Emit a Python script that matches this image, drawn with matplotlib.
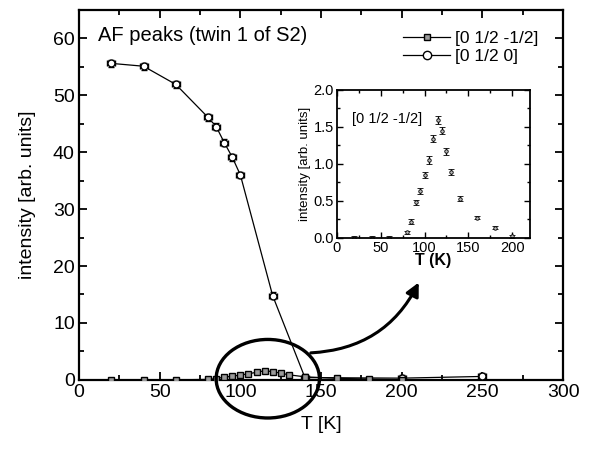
import matplotlib
matplotlib.use("Agg")
import matplotlib.pyplot as plt
from matplotlib.lines import Line2D
from matplotlib.patches import Ellipse, FancyArrowPatch
from matplotlib.ticker import MultipleLocator

plt.rcParams["font.family"] = ["Liberation Sans", "DejaVu Sans"]

# [0 1/2 0] reflection (open circles)
t_circ = [20, 40, 60, 80, 85, 90, 95, 100, 120, 140, 200, 250]
i_circ = [55.6, 55.1, 51.9, 46.1, 44.5, 41.7, 39.1, 36.0, 14.8, 0.4, 0.3, 0.6]

# [0 1/2 -1/2] reflection (grey squares, also shown in the inset)
t_sq = [20, 40, 60, 80, 85, 90, 95, 100, 105, 110, 115, 120, 125, 130, 140, 160, 180, 200]
i_sq = [0.0, 0.0, 0.0, 0.08, 0.22, 0.48, 0.63, 0.85, 1.05, 1.34, 1.59, 1.45,
        1.17, 0.89, 0.53, 0.27, 0.14, 0.02]
err_sq = [0.02, 0.02, 0.02, 0.02, 0.03, 0.03, 0.04, 0.04, 0.05, 0.05, 0.05, 0.05,
          0.05, 0.04, 0.03, 0.02, 0.02, 0.02]

fig = plt.figure(figsize=(5.94, 4.49), dpi=100)
ax = fig.add_axes([0.133, 0.154, 0.815, 0.824])

ax.errorbar(t_circ, i_circ, xerr=2.5, yerr=0.6, fmt="-o", color="black",
            mfc="white", mec="black", ms=5, lw=0.9, elinewidth=0.9, capsize=2,
            zorder=3)
ax.errorbar(t_sq, i_sq, yerr=err_sq, fmt="-s", color="black",
            mfc="#9a9a9a", mec="black", ms=4.5, lw=0.9, elinewidth=0.9, capsize=2,
            zorder=4)

ax.set_xlim(0, 300)
ax.set_ylim(0, 65)
ax.xaxis.set_major_locator(MultipleLocator(50))
ax.xaxis.set_minor_locator(MultipleLocator(25))
ax.yaxis.set_major_locator(MultipleLocator(10))
ax.yaxis.set_minor_locator(MultipleLocator(5))
ax.tick_params(which="both", direction="in", top=True, right=True, width=1.3)
ax.tick_params(which="major", length=6, labelsize=14, pad=3)
ax.tick_params(which="minor", length=3.5)
for s in ax.spines.values():
    s.set_linewidth(1.6)

ax.set_xlabel("T [K]", fontsize=14, labelpad=11)
ax.set_ylabel("intensity [arb. units]", fontsize=14, labelpad=12)
ax.text(0.04, 0.93, "AF peaks (twin 1 of S2)", transform=ax.transAxes,
        fontsize=14.5, va="center", ha="left")

legend_lines = [
    Line2D([], [], color="black", lw=0.9, marker="s", ms=5, mfc="#9a9a9a", mec="black"),
    Line2D([], [], color="black", lw=0.9, marker="o", ms=6, mfc="white", mec="black"),
]
ax.legend(legend_lines, ["[0 1/2 -1/2]", "[0 1/2 0]"], loc="upper left",
          bbox_to_anchor=(0.645, 0.975), frameon=False, fontsize=12.5,
          handlelength=2.7, handletextpad=0.25, labelspacing=0.15, borderpad=0.2)

# highlight the weak peak and point to the inset
ell = Ellipse((117, 0.2), 64, 13.8, fill=False, lw=2.4, ec="black",
              clip_on=False, zorder=5)
ax.add_patch(ell)
arrow = FancyArrowPatch((308 / 594, 1 - 353 / 449), (420 / 594, 1 - 280 / 449),
                        transform=fig.transFigure, connectionstyle="arc3,rad=0.3",
                        arrowstyle="-|>,head_length=8,head_width=4",
                        lw=2.2, color="black", zorder=6)
fig.patches.append(arrow)

# inset: zoom on the [0 1/2 -1/2] peak
ins = fig.add_axes([0.567, 0.470, 0.325, 0.330])
ins.errorbar(t_sq, i_sq, yerr=err_sq, fmt="o", color="black", mfc="#bbbbbb",
             mec="black", ms=2.5, elinewidth=0.9, capsize=2.2, mew=0.6)
ins.set_xlim(0, 220)
ins.set_ylim(0, 2.0)
ins.xaxis.set_major_locator(MultipleLocator(50))
ins.xaxis.set_minor_locator(MultipleLocator(25))
ins.yaxis.set_major_locator(MultipleLocator(0.5))
ins.yaxis.set_minor_locator(MultipleLocator(0.25))
ins.tick_params(which="both", direction="in", top=True, right=True, width=1.0)
ins.tick_params(which="major", length=4, labelsize=10.5, pad=2)
ins.tick_params(which="minor", length=2)
ins.yaxis.set_major_formatter(plt.FormatStrFormatter("%.1f"))
for s in ins.spines.values():
    s.set_linewidth(1.3)
ins.set_xlabel("T (K)", fontsize=11.5, labelpad=-1, fontweight="bold")
ins.set_ylabel("intensity [arb. units]", fontsize=9.5, labelpad=2)
ins.text(0.08, 0.8, "[0 1/2 -1/2]", transform=ins.transAxes, fontsize=10.5,
         va="center", ha="left")

fig.savefig("out.png", dpi=100)
